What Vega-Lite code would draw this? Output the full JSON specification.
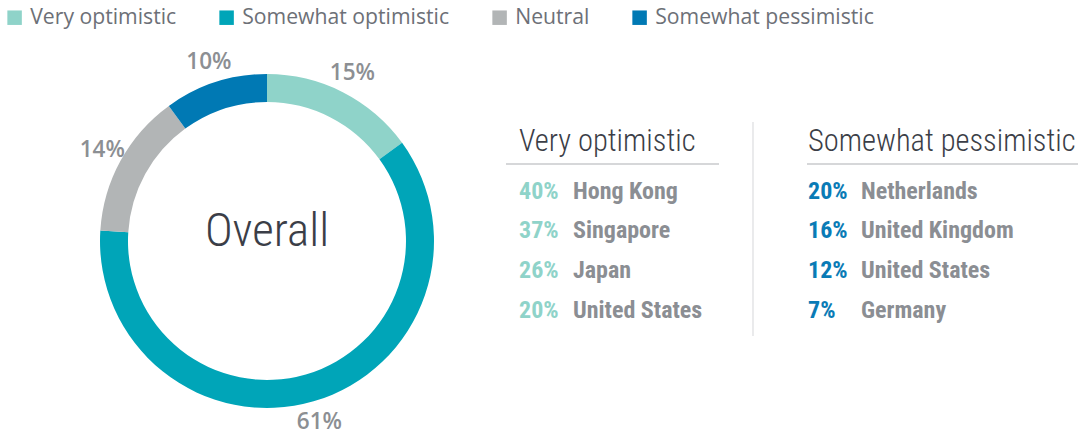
{
  "$schema": "https://vega.github.io/schema/vega-lite/v6.json",
  "background": "white",
  "padding": {"left": 4, "top": 7, "right": 0, "bottom": 10},
  "bounds": "flush",
  "spacing": 72,
  "config": {"view": {"stroke": null}, "font": "Open Sans"},
  "datasets": {
    "donut": [
      {"category": "Very optimistic", "value": 15, "label": "15%", "idx": 1},
      {"category": "Somewhat optimistic", "value": 61, "label": "61%", "idx": 2},
      {"category": "Neutral", "value": 14, "label": "14%", "idx": 3},
      {"category": "Somewhat pessimistic", "value": 10, "label": "10%", "idx": 4}
    ],
    "table": [
      {"group": "Very optimistic", "rank": 1, "pct": "40%", "country": "Hong Kong"},
      {"group": "Very optimistic", "rank": 2, "pct": "37%", "country": "Singapore"},
      {"group": "Very optimistic", "rank": 3, "pct": "26%", "country": "Japan"},
      {"group": "Very optimistic", "rank": 4, "pct": "20%", "country": "United States"},
      {"group": "Somewhat pessimistic", "rank": 1, "pct": "20%", "country": "Netherlands"},
      {"group": "Somewhat pessimistic", "rank": 2, "pct": "16%", "country": "United Kingdom"},
      {"group": "Somewhat pessimistic", "rank": 3, "pct": "12%", "country": "United States"},
      {"group": "Somewhat pessimistic", "rank": 4, "pct": "7%", "country": "Germany"}
    ]
  },
  "hconcat": [
    {
      "width": 334,
      "height": 334,
      "data": {"name": "donut"},
      "layer": [
        {
          "mark": {"type": "arc", "radius": 167, "radius2": 139, "strokeWidth": 0},
          "encoding": {
            "theta": {"field": "value", "type": "quantitative", "stack": true},
            "order": {"field": "idx", "type": "quantitative"},
            "color": {
              "field": "category",
              "type": "nominal",
              "scale": {
                "domain": ["Very optimistic", "Somewhat optimistic", "Neutral", "Somewhat pessimistic"],
                "range": ["#8fd3c9", "#00a5b8", "#b2b5b6", "#0079b4"]
              },
              "legend": {
                "orient": "none",
                "legendX": -96,
                "legendY": -67,
                "direction": "horizontal",
                "columns": 4,
                "title": null,
                "padding": 0,
                "symbolType": "square",
                "symbolSize": 210,
                "symbolStrokeWidth": 0,
                "labelFont": "Open Sans",
                "labelFontSize": 21.2,
                "labelColor": "#6d7077",
                "labelOffset": 5,
                "columnPadding": 39,
                "labelLimit": 400
              }
            }
          }
        },
        {
          "mark": {"type": "text", "radius": 188, "font": "Open Sans", "fontSize": 22.5, "fontWeight": 600, "fill": "#8c8f93", "align": "center", "baseline": "middle"},
          "encoding": {
            "theta": {"field": "value", "type": "quantitative", "stack": true},
            "order": {"field": "idx", "type": "quantitative"},
            "text": {"field": "label"}
          }
        },
        {
          "data": {"values": [{"title": "Overall"}]},
          "mark": {"type": "text", "font": "'Roboto Condensed', 'Open Sans', sans-serif", "fontWeight": 300, "fontSize": 47, "fill": "#3b3e47", "align": "center", "baseline": "alphabetic", "dy": 5},
          "encoding": {"text": {"field": "title"}}
        }
      ]
    },
    {
      "spacing": 88,
      "bounds": "flush",
      "hconcat": [
        {
          "width": 213,
          "height": 262,
          "data": {"name": "table"},
          "transform": [{"filter": "datum.group === 'Very optimistic'"}],
          "encoding": {
            "x": {"datum": "pct", "type": "nominal", "scale": {"type": "point", "domain": ["pct", "country"], "range": [13, 67], "padding": 0}, "axis": null}
          },
          "layer": [
            {
              "mark": {"type": "rule", "stroke": "#d6d7d9", "strokeWidth": 1.5},
              "encoding": {
                "x": null,
                "y": {"datum": 0, "type": "quantitative", "scale": {"domain": [-2.271, 4.34], "reverse": true, "zero": false, "nice": false}, "axis": null}
              }
            },
            {
              "transform": [{"filter": "datum.rank === 1"}],
              "mark": {"type": "text", "align": "left", "baseline": "alphabetic", "dy": -13, "font": "'Roboto Condensed', 'Open Sans', sans-serif", "fontWeight": 300, "fontSize": 30.5, "fill": "#3b3e47"},
              "encoding": {
                "y": {"datum": 0, "type": "quantitative"},
                "text": {"field": "group"}
              }
            },
            {
              "mark": {"type": "text", "align": "left", "baseline": "alphabetic", "dy": -5, "font": "'Roboto Condensed', 'Open Sans', sans-serif", "fontWeight": "bold", "fontSize": 24, "fill": "#8fd3c9"},
              "encoding": {
                "y": {"field": "rank", "type": "quantitative"},
                "text": {"field": "pct"}
              }
            },
            {
              "mark": {"type": "text", "align": "left", "baseline": "alphabetic", "dy": -5, "font": "'Roboto Condensed', 'Open Sans', sans-serif", "fontWeight": "bold", "fontSize": 24, "fill": "#8b8e93"},
              "encoding": {
                "x": {"datum": "country", "type": "nominal"},
                "y": {"field": "rank", "type": "quantitative"},
                "text": {"field": "country"}
              }
            }
          ]
        },
        {
          "width": 271,
          "height": 262,
          "data": {"name": "table"},
          "transform": [{"filter": "datum.group === 'Somewhat pessimistic'"}],
          "encoding": {
            "x": {"datum": "pct", "type": "nominal", "scale": {"type": "point", "domain": ["pct", "country"], "range": [1, 54], "padding": 0}, "axis": null}
          },
          "layer": [
            {
              "mark": {"type": "rule", "stroke": "#d6d7d9", "strokeWidth": 1.5},
              "encoding": {
                "x": null,
                "y": {"datum": 0, "type": "quantitative", "scale": {"domain": [-2.271, 4.34], "reverse": true, "zero": false, "nice": false}, "axis": null}
              }
            },
            {
              "transform": [{"filter": "datum.rank === 1"}],
              "mark": {"type": "rule", "xOffset": -55, "stroke": "#dcdddf", "strokeWidth": 1.2},
              "encoding": {
                "y": {"datum": -1.06, "type": "quantitative"},
                "y2": {"datum": 4.34}
              }
            },
            {
              "transform": [{"filter": "datum.rank === 1"}],
              "mark": {"type": "text", "align": "left", "baseline": "alphabetic", "dy": -13, "font": "'Roboto Condensed', 'Open Sans', sans-serif", "fontWeight": 300, "fontSize": 30.5, "fill": "#3b3e47"},
              "encoding": {
                "y": {"datum": 0, "type": "quantitative"},
                "text": {"field": "group"}
              }
            },
            {
              "mark": {"type": "text", "align": "left", "baseline": "alphabetic", "dy": -5, "font": "'Roboto Condensed', 'Open Sans', sans-serif", "fontWeight": "bold", "fontSize": 24, "fill": "#0a7bb6"},
              "encoding": {
                "y": {"field": "rank", "type": "quantitative"},
                "text": {"field": "pct"}
              }
            },
            {
              "mark": {"type": "text", "align": "left", "baseline": "alphabetic", "dy": -5, "font": "'Roboto Condensed', 'Open Sans', sans-serif", "fontWeight": "bold", "fontSize": 24, "fill": "#8b8e93"},
              "encoding": {
                "x": {"datum": "country", "type": "nominal"},
                "y": {"field": "rank", "type": "quantitative"},
                "text": {"field": "country"}
              }
            }
          ]
        }
      ]
    }
  ]
}
